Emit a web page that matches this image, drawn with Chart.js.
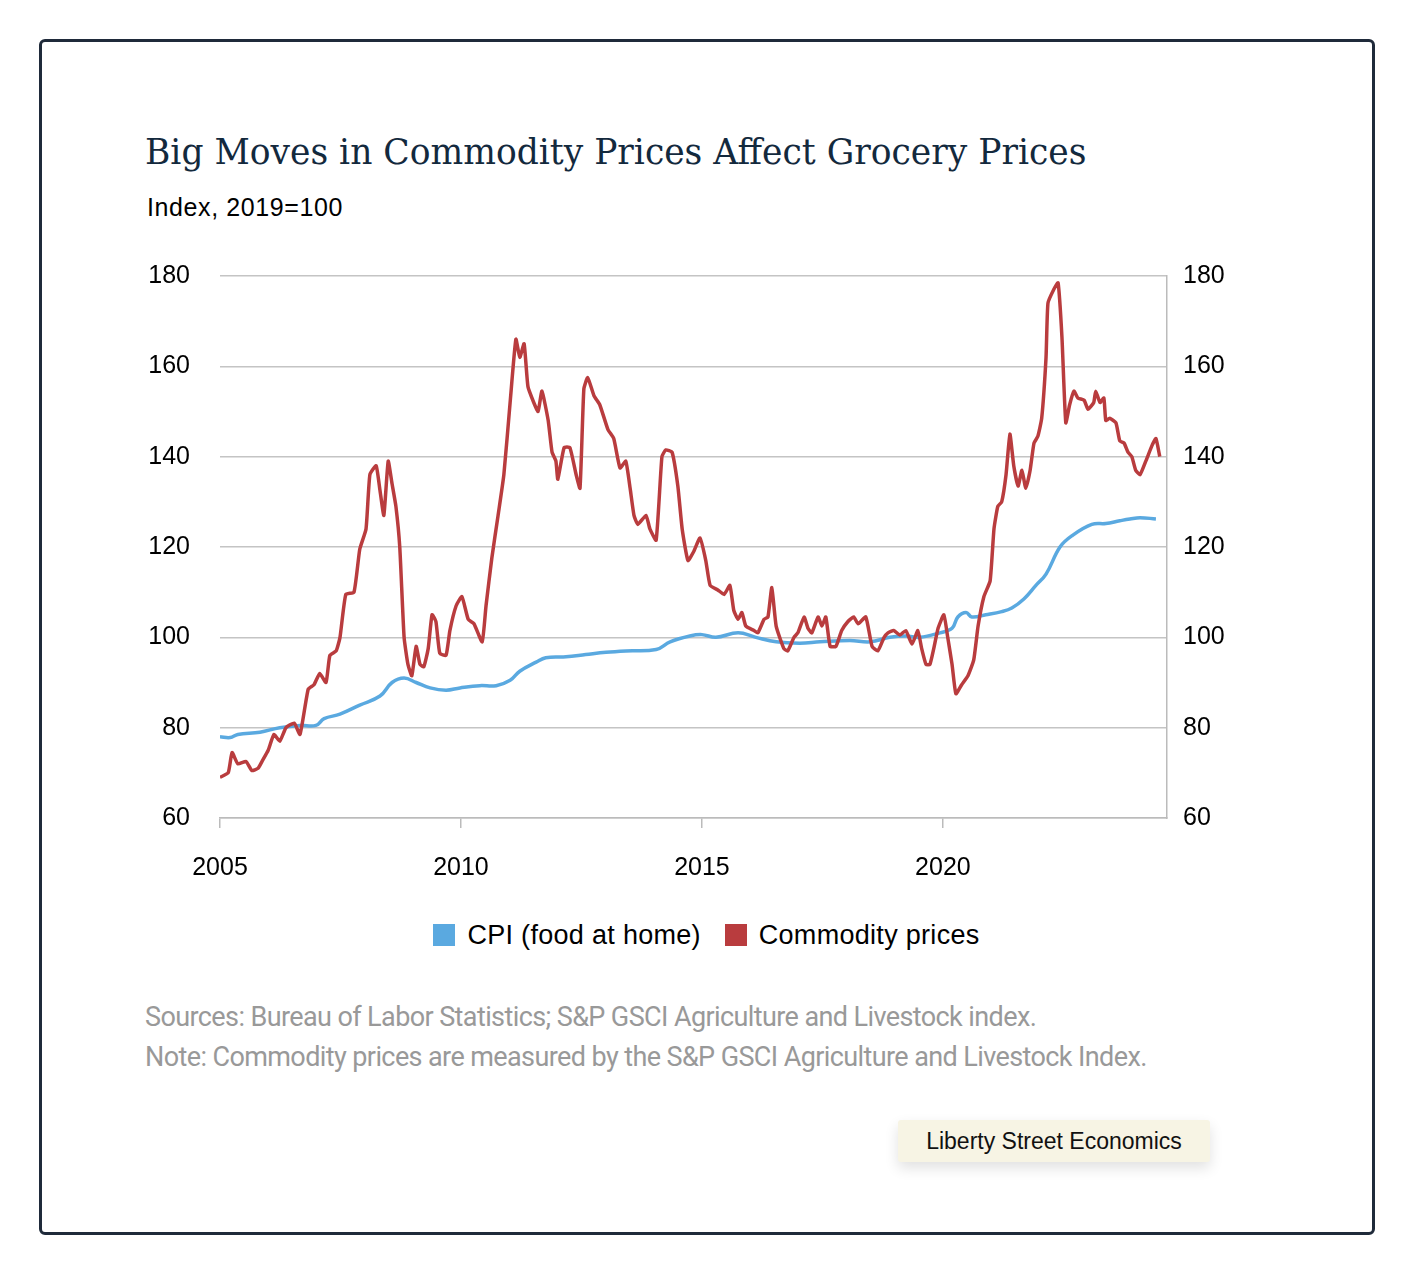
<!DOCTYPE html>
<html><head><meta charset="utf-8">
<script src="https://cdn.jsdelivr.net/npm/chart.js@4"></script>
<style>
body{margin:0;background:#fff;width:1413px;height:1274px;position:relative;overflow:hidden;font-family:"Liberation Sans",Arial,sans-serif}
#frame{position:absolute;left:39px;top:39px;width:1330px;height:1190px;border:3px solid #1f2a3a;border-radius:6px}
#title{position:absolute;left:145px;top:132px;font-family:"DejaVu Serif","Liberation Serif",serif;font-size:34.5px;color:#13293d;white-space:nowrap}
#sub{position:absolute;left:147px;top:193px;font-size:25px;letter-spacing:0.6px;color:#000}
#wrap{position:absolute;left:130px;top:231px;width:1100px;height:659px}
#legend{position:absolute;left:0;width:1413px;top:920px;text-align:center;font-size:27px;letter-spacing:0.3px;color:#000}
#legend span.sw{display:inline-block;width:22px;height:22px;vertical-align:-2px;margin-right:12px}
#legend span.it{margin:0 8px}
.note{position:absolute;left:145px;font-family:Roboto,sans-serif;font-size:27px;color:#999;white-space:nowrap;letter-spacing:-0.6px}
#badge{position:absolute;left:898px;top:1120px;width:312px;height:42px;background:#f7f4e4;box-shadow:0 6px 14px rgba(0,0,0,0.12);font-size:23px;line-height:42px;text-align:center;color:#111;border-radius:3px}
</style></head><body>
<div id="frame"></div>
<div id="title">Big Moves in Commodity Prices Affect Grocery Prices</div>
<div id="sub">Index, 2019=100</div>
<div id="wrap"><canvas id="c"></canvas></div>
<div id="legend"><span class="it"><span class="sw" style="background:#5aa9e0"></span>CPI (food at home)</span> <span class="it"><span class="sw" style="background:#b93c3e"></span>Commodity prices</span></div>
<div class="note" style="top:1001px">Sources: Bureau of Labor Statistics; S&amp;P GSCI Agriculture and Livestock index.</div>
<div class="note" style="top:1041px">Note: Commodity prices are measured by the S&amp;P GSCI Agriculture and Livestock Index.</div>
<div id="badge">Liberty Street Economics</div>
<script>
const yTicks=[60,80,100,120,140,160,180];
const xTicks=[2005,2010,2015,2020];
const commYears=[2005.00,2005.17,2005.25,2005.37,2005.54,2005.66,2005.79,2005.87,2006.00,2006.12,2006.24,2006.37,2006.54,2006.66,2006.83,2006.95,2007.07,2007.20,2007.28,2007.41,2007.49,2007.61,2007.78,2007.90,2008.03,2008.11,2008.24,2008.32,2008.40,2008.49,2008.57,2008.65,2008.73,2008.82,2008.90,2008.98,2009.07,2009.15,2009.23,2009.32,2009.40,2009.48,2009.56,2009.69,2009.77,2009.90,2010.02,2010.15,2010.27,2010.44,2010.52,2010.64,2010.77,2010.89,2011.02,2011.14,2011.22,2011.31,2011.39,2011.51,2011.60,2011.68,2011.81,2011.89,2011.97,2012.01,2012.14,2012.26,2012.39,2012.47,2012.55,2012.63,2012.76,2012.88,2013.05,2013.17,2013.30,2013.42,2013.51,2013.59,2013.67,2013.84,2013.92,2014.05,2014.17,2014.25,2014.38,2014.50,2014.59,2014.71,2014.83,2014.96,2015.08,2015.17,2015.33,2015.46,2015.58,2015.66,2015.75,2015.83,2015.91,2016.08,2016.16,2016.29,2016.37,2016.45,2016.54,2016.70,2016.78,2016.91,2016.99,2017.12,2017.20,2017.28,2017.41,2017.49,2017.57,2017.66,2017.78,2017.90,2018.03,2018.15,2018.24,2018.40,2018.53,2018.65,2018.78,2018.86,2018.98,2019.11,2019.23,2019.36,2019.48,2019.56,2019.65,2019.73,2019.81,2019.90,2020.02,2020.10,2020.19,2020.27,2020.39,2020.52,2020.64,2020.73,2020.85,2020.98,2021.06,2021.14,2021.22,2021.31,2021.39,2021.47,2021.56,2021.64,2021.72,2021.81,2021.89,2021.97,2022.05,2022.14,2022.18,2022.30,2022.39,2022.47,2022.55,2022.63,2022.72,2022.80,2022.93,2023.01,2023.13,2023.17,2023.26,2023.34,2023.38,2023.46,2023.59,2023.67,2023.76,2023.84,2023.92,2024.00,2024.09,2024.21,2024.34,2024.42,2024.50];
const commValues=[69,70,74.5,72,72.5,70.5,71,72.5,75,78.5,77,80,81,78.5,88.5,89.5,92,90,96,97,100,109.5,110,119.5,124,136,138,132.5,127,139,134,129,120,100,94,91.5,98,94,93.5,97.5,105,103.5,96.5,96,101.5,107,109,104,103,99,107,117.5,127,136,152,166,162,165,155.5,152,150,154.5,148,141,139,135,142,142,136,133,155,157.5,153.5,151.5,146,144,137.5,139,133,127,125,127,124,121.5,140,141.5,141,133.5,124,117,119,122,117,111.5,110.5,109.5,111.5,106,104,105.5,102.5,101.5,101,104,104.5,111,102.5,97.5,97,100,101,104.5,102,101,104.5,102.5,104.5,98,98,101.5,103.5,104.5,103,104.5,98,97,100,101,101.5,100.5,101.5,98.5,101.5,97.5,94,94,97.5,102,105,100,94,87.5,89.5,91.5,95,102.5,109,112.5,124,129,130,136,145,138,133.5,137,133,137,143,144.5,148.5,162,174,177,178.5,166.5,147.5,151.5,154.5,153,152.5,150.5,152,154.5,152,153,148,148.5,147.5,143.5,143,141,140,137,136,139,142.5,144,140];
const cpiYears=[2005.00,2005.21,2005.37,2005.83,2006.24,2006.66,2006.99,2007.16,2007.49,2007.90,2008.32,2008.57,2008.82,2009.07,2009.36,2009.69,2009.98,2010.39,2010.73,2011.02,2011.22,2011.56,2011.76,2012.18,2012.59,2013.01,2013.42,2014.05,2014.34,2014.75,2015.00,2015.29,2015.75,2016.12,2016.54,2017.03,2017.45,2018.07,2018.49,2018.90,2019.23,2019.52,2019.94,2020.19,2020.31,2020.48,2020.60,2020.89,2021.22,2021.43,2021.68,2021.93,2022.14,2022.43,2022.68,2023.09,2023.38,2023.67,2023.88,2024.09,2024.42];
const cpiValues=[78,77.8,78.5,79,80,80.5,80.5,82,83,85,87,90,91,90,88.8,88.3,88.8,89.3,89.3,90.5,92.5,94.5,95.5,95.7,96.2,96.7,97,97.3,99,100.3,100.6,100,101,100,99,98.7,99,99.3,99,100,100.3,100,101,102,104.5,105.5,104.5,105,105.7,106.5,108.5,111.5,114,120,122.5,125,125.2,125.8,126.2,126.5,126.2];
const pts=(xs,ys)=>xs.map((x,i)=>({x,y:ys[i]}));
const tickFont={family:"Liberation Sans",size:25};
new Chart(document.getElementById('c'),{
 type:'line',
 data:{datasets:[
  {label:'Commodity prices',data:pts(commYears,commValues),borderColor:'#b93c3e',borderWidth:3.5,pointRadius:0,tension:0.15,yAxisID:'y'},
  {label:'CPI (food at home)',data:pts(cpiYears,cpiValues),borderColor:'#5aa9e0',borderWidth:3.5,pointRadius:0,tension:0.4,yAxisID:'y'}
 ]},
 options:{responsive:true,maintainAspectRatio:false,animation:false,
  layout:{padding:0},
  plugins:{legend:{display:false},tooltip:{enabled:false}},
  scales:{
   x:{type:'linear',min:2005,max:2024.65,
    afterBuildTicks:a=>{a.ticks=xTicks.map(v=>({value:v}));},
    afterFit:a=>{a.height=72;},
    ticks:{color:'#000',font:tickFont,padding:25,maxRotation:0,callback:v=>String(v)},
    grid:{drawOnChartArea:false,drawTicks:true,tickLength:10,color:'#bbb',lineWidth:1.5},
    border:{display:true,color:'#bbb',width:1.5}},
   y:{position:'left',min:60,max:180,
    afterBuildTicks:a=>{a.ticks=yTicks.map(v=>({value:v}));},
    afterFit:a=>{a.width=90;},
    ticks:{color:'#000',font:tickFont,padding:30},
    grid:{color:'#c4c4c4',lineWidth:1.5,drawTicks:false},
    border:{display:false}},
   y2:{position:'right',min:60,max:180,
    afterBuildTicks:a=>{a.ticks=yTicks.map(v=>({value:v}));},
    afterFit:a=>{a.width=63;},
    ticks:{color:'#000',font:tickFont,padding:16},
    grid:{drawOnChartArea:false,drawTicks:false},
    border:{display:true,color:'#bbb',width:1.5}}
  }}
});
</script>
</body></html>
